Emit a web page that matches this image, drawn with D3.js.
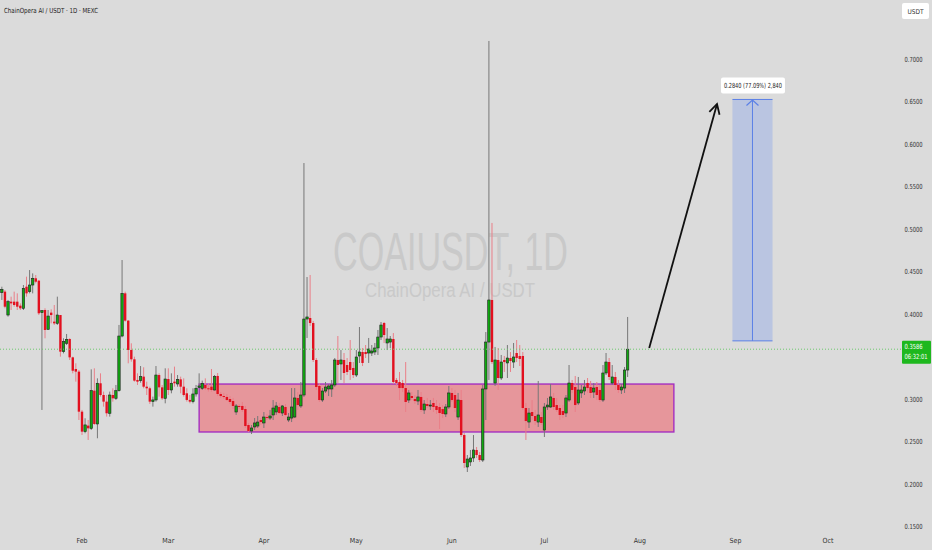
<!DOCTYPE html>
<html><head><meta charset="utf-8">
<script src="https://cdn.jsdelivr.net/npm/d3@7"></script>
<style>html,body{margin:0;padding:0;background:#dbdbdb;overflow:hidden}svg{display:block}</style>
</head><body><svg id="c" width="932" height="550"></svg>
<script>
// ---------- DATA ----------
const firstDay = "2025-01-06";   // first daily candle
const open = [
0.4251,0.4263,0.3988,0.4145,0.4145,0.4145,0.4098,0.4067,0.4321,0.4263,
0.4341,0.4420,0.4392,0.4016,0.4047,0.3820,0.4016,0.3910,0.3890,0.3988,
0.3557,0.3655,0.3706,0.3490,0.3353,0.3322,0.2851,0.2616,0.2687,0.2655,
0.3098,0.2706,0.3185,0.3047,0.2969,0.2832,0.3047,0.3008,0.3098,0.3741,
0.4243,0.3922,0.3577,0.3467,0.3224,0.3216,0.3263,0.3145,0.3126,0.2969,
0.2989,0.3282,0.3137,0.3008,0.3235,0.3106,0.3204,0.3177,0.3231,0.3145,
0.3067,0.2989,0.2969,0.3059,0.3137,0.3126,0.3165,0.3126,0.3145,0.3106,
0.3271,0.3059,0.3035,0.3024,0.3000,0.2976,0.2847,0.2918,0.2918,0.2882,
0.2694,0.2624,0.2671,0.2682,0.2753,0.2718,0.2788,0.2776,0.2812,0.2847,
0.2906,0.2835,0.2906,0.2753,0.2776,0.2788,0.3012,0.2918,0.3047,0.3941,
0.3953,0.3894,0.3459,0.3153,0.2988,0.3094,0.3118,0.3118,0.3165,0.3459,
0.3412,0.3459,0.3400,0.3435,0.3365,0.3282,0.3506,0.3553,0.3553,0.3541,
0.3541,0.3553,0.3600,0.3729,0.3894,0.3659,0.3670,0.3706,0.3224,0.3200,
0.3188,0.3129,0.2988,0.3035,0.3000,0.2976,0.3024,0.2871,0.2941,0.2918,
0.2953,0.2918,0.2906,0.2882,0.2824,0.2906,0.3071,0.3047,0.2788,0.2988,
0.2576,0.2200,0.2259,0.2306,0.2400,0.2341,0.2282,0.3118,0.3670,0.4165,
0.3188,0.3459,0.3247,0.3459,0.3424,0.3482,0.3435,0.3541,0.3506,0.3506,
0.2894,0.2729,0.2847,0.2800,0.2729,0.2788,0.2635,0.2906,0.2906,0.3012,
0.2929,0.2894,0.2859,0.2835,0.2988,0.3188,0.3141,0.2953,0.3071,0.3094,
0.3188,0.3141,0.3082,0.3141,0.3106,0.2988,0.3306,0.3435,0.3188,0.3259,
0.3165,0.3106,0.3129,0.3341];
const high = [
0.4321,0.4282,0.4165,0.4204,0.4263,0.4243,0.4125,0.4341,0.4439,0.4517,
0.4478,0.4459,0.4400,0.4047,0.4067,0.4047,0.4055,0.4106,0.4204,0.3988,
0.3714,0.3765,0.3714,0.3498,0.3420,0.3341,0.2871,0.2773,0.2753,0.3349,
0.3361,0.3243,0.3302,0.3087,0.3047,0.3087,0.3126,0.3165,0.3871,0.4635,
0.4263,0.3929,0.3655,0.3498,0.3302,0.3388,0.3373,0.3204,0.3145,0.3028,
0.3388,0.3302,0.3165,0.3361,0.3361,0.3302,0.3381,0.3282,0.3263,0.3243,
0.3126,0.3047,0.3126,0.3165,0.3302,0.3216,0.3243,0.3185,0.3353,0.3282,
0.3306,0.3082,0.3071,0.3059,0.3035,0.3012,0.2941,0.2941,0.2965,0.2918,
0.2718,0.2694,0.2776,0.2800,0.2776,0.2847,0.2824,0.2871,0.2988,0.2965,
0.2953,0.2929,0.2941,0.2835,0.3129,0.3129,0.3082,0.3200,0.5776,0.4435,
0.4459,0.3918,0.3482,0.3188,0.3129,0.3200,0.3176,0.3224,0.3482,0.3741,
0.3576,0.3541,0.3482,0.3694,0.3435,0.3576,0.3847,0.3600,0.3635,0.3718,
0.3635,0.3659,0.3812,0.3906,0.3906,0.3835,0.3741,0.3776,0.3247,0.3318,
0.3224,0.3435,0.3106,0.3082,0.3047,0.3106,0.3082,0.2988,0.3012,0.2988,
0.3012,0.2988,0.2953,0.2929,0.2941,0.3153,0.3129,0.3106,0.3071,0.3106,
0.2600,0.2341,0.2400,0.2576,0.2435,0.2376,0.3165,0.3788,0.7212,0.5071,
0.3612,0.3600,0.3518,0.3506,0.3635,0.3553,0.3659,0.3694,0.3635,0.3553,
0.2953,0.2894,0.2988,0.2871,0.3212,0.2847,0.2953,0.3012,0.3176,0.3071,
0.3012,0.2929,0.2929,0.3047,0.3400,0.3224,0.3271,0.3259,0.3165,0.3224,
0.3247,0.3212,0.3188,0.3200,0.3165,0.3400,0.3541,0.3482,0.3400,0.3318,
0.3224,0.3176,0.3376,0.3965];
const low = [
0.4165,0.4067,0.3969,0.4047,0.4086,0.4047,0.4047,0.4047,0.4204,0.4243,
0.4243,0.4361,0.3988,0.2871,0.3714,0.3812,0.3890,0.3871,0.3871,0.3498,
0.3537,0.3635,0.3459,0.3302,0.3204,0.2753,0.2577,0.2597,0.2518,0.2636,
0.2695,0.2538,0.3028,0.2910,0.2793,0.2793,0.2969,0.2989,0.3087,0.3726,
0.3910,0.3420,0.3439,0.3204,0.3165,0.3192,0.3126,0.3047,0.2942,0.2910,
0.2969,0.3028,0.2989,0.2949,0.3047,0.3067,0.3145,0.3145,0.3067,0.3028,
0.2969,0.2949,0.2949,0.3028,0.3126,0.3106,0.3106,0.3087,0.3087,0.3098,
0.3035,0.3012,0.3000,0.2976,0.2941,0.2882,0.2812,0.2882,0.2847,0.2659,
0.2612,0.2588,0.2635,0.2659,0.2694,0.2659,0.2753,0.2753,0.2753,0.2812,
0.2824,0.2800,0.2800,0.2729,0.2729,0.2776,0.2871,0.2894,0.3024,0.3718,
0.3859,0.3435,0.3106,0.2965,0.2965,0.3071,0.3035,0.3024,0.3141,0.3188,
0.3224,0.3188,0.3282,0.3224,0.3247,0.3259,0.3424,0.3388,0.3482,0.3424,
0.3506,0.3518,0.3518,0.3694,0.3659,0.3576,0.3600,0.3176,0.3153,0.2988,
0.3082,0.2847,0.2953,0.2988,0.2941,0.2929,0.2847,0.2824,0.2894,0.2871,
0.2847,0.2824,0.2647,0.2776,0.2788,0.2882,0.2965,0.2847,0.2753,0.2553,
0.2188,0.2141,0.2212,0.2259,0.2306,0.2259,0.2259,0.2753,0.3224,0.3412,
0.3153,0.3106,0.3224,0.3318,0.3247,0.3318,0.3365,0.3435,0.3388,0.2871,
0.2518,0.2659,0.2753,0.2694,0.2671,0.2694,0.2553,0.2871,0.2894,0.2871,
0.2847,0.2753,0.2776,0.2788,0.2965,0.3071,0.2847,0.2929,0.3012,0.3047,
0.3071,0.3012,0.3012,0.2988,0.2965,0.2965,0.3282,0.3224,0.3165,0.3106,
0.3071,0.3059,0.3071,0.3259];
const close = [
0.4290,0.4086,0.4145,0.4125,0.4106,0.4086,0.4067,0.4302,0.4243,0.4341,
0.4420,0.4380,0.4008,0.4039,0.3812,0.3976,0.3988,0.3890,0.3988,0.3557,
0.3675,0.3702,0.3490,0.3333,0.3322,0.2851,0.2616,0.2695,0.2655,0.3098,
0.2706,0.3185,0.3047,0.2969,0.2832,0.3047,0.3008,0.3098,0.3741,0.4243,
0.3922,0.3577,0.3467,0.3216,0.3204,0.3263,0.3145,0.3126,0.2969,0.2989,
0.3282,0.3137,0.3008,0.3235,0.3106,0.3185,0.3185,0.3231,0.3145,0.3047,
0.2989,0.2969,0.3059,0.3126,0.3153,0.3185,0.3126,0.3114,0.3106,0.3263,
0.3059,0.3035,0.3024,0.2988,0.2965,0.2918,0.2918,0.2906,0.2871,0.2682,
0.2624,0.2659,0.2718,0.2729,0.2729,0.2788,0.2776,0.2800,0.2894,0.2918,
0.2835,0.2918,0.2812,0.2788,0.2906,0.3012,0.2929,0.3047,0.3941,0.3965,
0.3894,0.3459,0.3141,0.2988,0.3094,0.3141,0.3153,0.3165,0.3459,0.3400,
0.3459,0.3306,0.3318,0.3341,0.3282,0.3494,0.3553,0.3424,0.3529,0.3588,
0.3565,0.3600,0.3729,0.3870,0.3753,0.3706,0.3706,0.3200,0.3188,0.3129,
0.3129,0.2965,0.3071,0.3012,0.2976,0.3024,0.2871,0.2941,0.2918,0.2929,
0.2906,0.2871,0.2835,0.2824,0.2906,0.3071,0.2988,0.2894,0.2988,0.2576,
0.2247,0.2294,0.2306,0.2400,0.2341,0.2282,0.3118,0.3670,0.4165,0.3435,
0.3459,0.3247,0.3435,0.3435,0.3482,0.3447,0.3494,0.3482,0.3471,0.2894,
0.2741,0.2835,0.2800,0.2741,0.2812,0.2718,0.2906,0.2929,0.3024,0.2906,
0.2871,0.2812,0.2812,0.3012,0.3188,0.3106,0.2929,0.3106,0.3106,0.3141,
0.3129,0.3071,0.3129,0.3047,0.2988,0.3306,0.3435,0.3259,0.3259,0.3165,
0.3106,0.3141,0.3341,0.3586];

const monthDates  = ["2025-02-01","2025-03-01","2025-04-01","2025-05-01","2025-06-01","2025-07-01","2025-08-01","2025-09-01","2025-10-01"];
const monthLabels = ["Feb","Mar","Apr","May","Jun","Jul","Aug","Sep","Oct"];
const priceTicks  = [0.15,0.20,0.25,0.30,0.40,0.45,0.50,0.55,0.60,0.65,0.70];

const lastPrice = 0.3586, countdown = "06:32:01";
const zoneDates  = ["2025-03-11","2025-08-12"], zonePrices = [0.3176, 0.2612];
const projDates  = ["2025-08-31","2025-09-13"], projPrices = [0.3684, 0.6524];
const projLabel  = "0.2840 (77.09%) 2,840";
const arrowDates = ["2025-08-04","2025-08-26"], arrowPrices = [0.3600, 0.6471];
const titleText  = "ChainOpera AI / USDT · 1D · MEXC";
const wmMain = "COAIUSDT, 1D", wmSub = "ChainOpera AI / USDT";

// ---------- CHART ----------
const W = 932, H = 550;
const pd = d3.utcParse("%Y-%m-%d");
const svg = d3.select("#c");
const x = d3.scaleUtc().domain([pd(monthDates[0]), pd(monthDates[8])]).range([82, 828]);
const y = d3.scaleLinear().domain([0.15, 0.70]).range([526.5, 59]);
const FONT = "'Liberation Sans Narrow','DejaVu Sans Condensed','Liberation Sans',sans-serif";

const start = pd(firstDay);
const days = d3.utcDay.range(start, d3.utcDay.offset(start, open.length));
const candles = days.map((d, i) => ({d, o: open[i], h: high[i], l: low[i], c: close[i]}));

svg.append("rect").attr("width", W).attr("height", H).attr("fill", "#dbdbdb");

// watermark
svg.append("text").attr("x", 333).attr("y", 270).attr("font-family", "'Liberation Sans',sans-serif")
  .attr("font-size", 53).attr("textLength", 235).attr("lengthAdjust", "spacingAndGlyphs")
  .attr("fill", "#c9c9c9").text(wmMain);
svg.append("text").attr("x", 365).attr("y", 297).attr("font-family", "'Liberation Sans',sans-serif")
  .attr("font-size", 20).attr("textLength", 170).attr("lengthAdjust", "spacingAndGlyphs")
  .attr("fill", "#c9c9c9").text(wmSub);

// zone
const zx0 = x(pd(zoneDates[0])), zx1 = x(pd(zoneDates[1]));
svg.append("rect").attr("x", zx0).attr("y", y(zonePrices[0]))
  .attr("width", zx1 - zx0).attr("height", y(zonePrices[1]) - y(zonePrices[0]))
  .attr("fill", "#e6969b").attr("stroke", "#a52fc0").attr("stroke-width", 1.4);

// candles
const bw = 2.4;
const g = svg.append("g");
g.selectAll("line.w").data(candles).join("line").attr("class", "w")
  .attr("x1", d => x(d.d)).attr("x2", d => x(d.d))
  .attr("y1", d => y(d.h)).attr("y2", d => y(d.l))
  .attr("stroke", d => d.c >= d.o ? "#777" : "#ea7f88").attr("stroke-width", 1);
g.selectAll("rect.b").data(candles).join("rect").attr("class", "b")
  .attr("x", d => x(d.d) - bw / 2).attr("width", bw)
  .attr("y", d => y(Math.max(d.o, d.c)))
  .attr("height", d => Math.max(1, Math.abs(y(d.o) - y(d.c))))
  .attr("fill", d => d.c >= d.o ? "#11a811" : "#e2101f")
  .attr("stroke", d => d.c >= d.o ? "#1f1f1f" : "none").attr("stroke-width", 0.6);

// current price line
svg.append("line").attr("x1", 0).attr("x2", 902).attr("y1", y(lastPrice)).attr("y2", y(lastPrice))
  .attr("stroke", "#6cc96c").attr("stroke-width", 1).attr("stroke-dasharray", "1,2");

// projection box
const px0 = x(pd(projDates[0])), px1 = x(pd(projDates[1]));
const py0 = y(projPrices[0]), py1 = y(projPrices[1]);
svg.append("rect").attr("x", px0).attr("y", py1).attr("width", px1 - px0).attr("height", py0 - py1)
  .attr("fill", "#bac5e1");
[py0, py1].forEach(v => svg.append("line").attr("x1", px0).attr("x2", px1).attr("y1", v).attr("y2", v)
  .attr("stroke", "#5b80e6").attr("stroke-width", 1));
const pxm = (px0 + px1) / 2;
svg.append("line").attr("x1", pxm).attr("x2", pxm).attr("y1", py0).attr("y2", py1 + 1)
  .attr("stroke", "#5b80e6").attr("stroke-width", 1);
svg.append("path").attr("d", `M${pxm - 6},${py1 + 6} L${pxm},${py1 + 0.5} L${pxm + 6},${py1 + 6}`)
  .attr("fill", "none").attr("stroke", "#5b80e6").attr("stroke-width", 1.2);

// label of projection
svg.append("rect").attr("x", pxm - 31.5).attr("y", py1 - 22).attr("width", 64).attr("height", 16)
  .attr("rx", 2).attr("fill", "#fff");
svg.append("text").attr("x", pxm - 28.5).attr("y", py1 - 11.5)
  .attr("font-family", FONT).attr("font-size", 7).attr("textLength", 58).attr("lengthAdjust", "spacingAndGlyphs")
  .attr("fill", "#222").text(projLabel);

// black arrow
const ax0 = x(pd(arrowDates[0])), ay0 = y(arrowPrices[0]);
const ax1 = x(pd(arrowDates[1])), ay1 = y(arrowPrices[1]);
svg.append("line").attr("x1", ax0).attr("y1", ay0).attr("x2", ax1).attr("y2", ay1)
  .attr("stroke", "#111").attr("stroke-width", 1.8);
const ang = Math.atan2(ay1 - ay0, ax1 - ax0), hl = 11, ha = 0.5;
svg.append("path").attr("d",
  `M${ax1 - hl * Math.cos(ang - ha)},${ay1 - hl * Math.sin(ang - ha)} L${ax1},${ay1} L${ax1 - hl * Math.cos(ang + ha)},${ay1 - hl * Math.sin(ang + ha)}`)
  .attr("fill", "none").attr("stroke", "#111").attr("stroke-width", 1.8).attr("stroke-linejoin", "miter");

// right axis
svg.append("g").selectAll("text").data(priceTicks).join("text")
  .attr("x", 904.5).attr("y", d => y(d) + 2.5)
  .attr("font-family", FONT).attr("font-size", 7).attr("textLength", 18).attr("lengthAdjust", "spacingAndGlyphs")
  .attr("fill", "#333")
  .text(d => d3.format(".4f")(d));

// price tag
svg.append("rect").attr("x", 902).attr("y", y(lastPrice) - 8.5).attr("width", 29).attr("height", 23)
  .attr("rx", 1).attr("fill", "#1eb81e");
svg.append("text").attr("x", 904.5).attr("y", y(lastPrice) - 0.5).attr("font-family", FONT)
  .attr("font-size", 7).attr("textLength", 18).attr("lengthAdjust", "spacingAndGlyphs")
  .attr("fill", "#fff").text(d3.format(".4f")(lastPrice));
svg.append("text").attr("x", 904.5).attr("y", y(lastPrice) + 9.5).attr("font-family", FONT)
  .attr("font-size", 7).attr("textLength", 23).attr("lengthAdjust", "spacingAndGlyphs")
  .attr("fill", "#fff").text(countdown);

// USDT box
svg.append("rect").attr("x", 902).attr("y", 3).attr("width", 27).attr("height", 16).attr("rx", 2).attr("fill", "#fff");
svg.append("text").attr("x", 915.5).attr("y", 13.5).attr("text-anchor", "middle").attr("font-family", FONT)
  .attr("font-size", 6.5).attr("fill", "#333").text("USDT");

// bottom axis
svg.append("g").selectAll("text").data(monthDates).join("text")
  .attr("x", d => x(pd(d))).attr("y", 543).attr("text-anchor", "middle")
  .attr("font-family", FONT).attr("font-size", 7).attr("fill", "#333")
  .text((d, i) => monthLabels[i]);

// title
svg.append("text").attr("x", 4).attr("y", 12.5).attr("font-family", FONT).attr("font-size", 7)
  .attr("textLength", 94).attr("lengthAdjust", "spacingAndGlyphs")
  .attr("fill", "#222").text(titleText);
</script></body></html>
